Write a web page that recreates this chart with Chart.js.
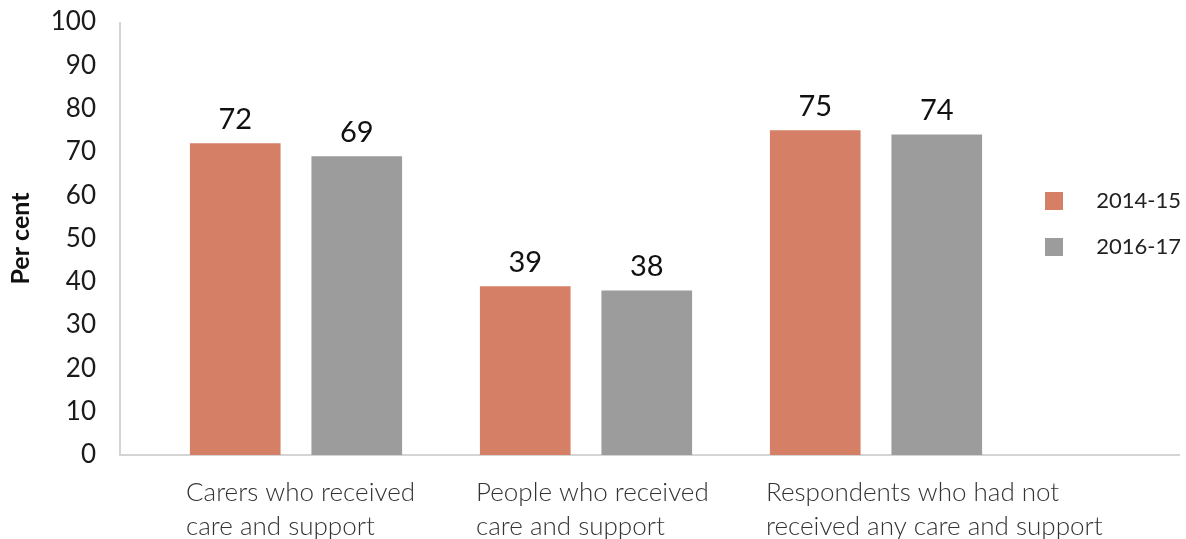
<!DOCTYPE html>
<html>
<head>
<meta charset="utf-8">
<script src="https://cdn.jsdelivr.net/npm/chart.js@4.4.0/dist/chart.umd.min.js"></script>
<style>
  html, body { margin: 0; padding: 0; background: #fff; }
  #wrap { width: 1186px; height: 539px; }
</style>
</head>
<body>
<div id="wrap"><canvas id="careChart"></canvas></div>
<script>
const categories = [
    ['Carers who received', 'care and support'],
    ['People who received', 'care and support'],
    ['Respondents who had not', 'received any care and support']
];
const series2014 = [72, 39, 75];
const series2016 = [69, 38, 74];
const seriesNames = ['2014-15', '2016-17'];
const yTicks = [0, 10, 20, 30, 40, 50, 60, 70, 80, 90, 100];

const orange = '#d57f66';
const grey = '#9c9c9c';

// value labels above each bar
const barLabels = {
    id: 'barLabels',
    afterDatasetsDraw(chart) {
        const ctx = chart.ctx;
        ctx.save();
        ctx.font = '29px Lato';
        ctx.fillStyle = '#111';
        ctx.textAlign = 'center';
        ctx.textBaseline = 'bottom';
        chart.data.datasets.forEach((ds, i) => {
            chart.getDatasetMeta(i).data.forEach((bar, j) => {
                ctx.fillText(ds.data[j], bar.x, bar.y - 9);
            });
        });
        ctx.restore();
    }
};

// axis lines: y line sits left of the first group, x line runs under the legend too
const axisLines = {
    id: 'axisLines',
    beforeDatasetsDraw(chart) {
        const ctx = chart.ctx;
        const area = chart.chartArea;
        const x0 = area.left - 31;
        const y0 = chart.scales.y.getPixelForValue(0);
        ctx.save();
        ctx.strokeStyle = '#d4d4d4';
        ctx.lineWidth = 2;
        ctx.beginPath();
        ctx.moveTo(x0, area.top);
        ctx.lineTo(x0, y0);
        ctx.lineTo(chart.width - 6, y0);
        ctx.stroke();
        ctx.restore();
    }
};

const ctx = document.getElementById('careChart').getContext('2d');
const careChart = new Chart(ctx, {
    type: 'bar',
    data: {
        labels: categories,
        datasets: [{
            label: seriesNames[0],
            data: series2014,
            backgroundColor: orange,
            barPercentage: 0.746,
            categoryPercentage: 0.838
        }, {
            label: seriesNames[1],
            data: series2016,
            backgroundColor: grey,
            barPercentage: 0.746,
            categoryPercentage: 0.838
        }]
    },
    options: {
        responsive: true,
        maintainAspectRatio: false,
        animation: false,
        layout: {
            padding: { top: 22, right: 0, bottom: 0, left: 0 }
        },
        plugins: {
            tooltip: { enabled: false },
            legend: {
                position: 'right',
                fullSize: false,
                align: 'start',
                maxWidth: 165,
                title: {
                    display: true,
                    text: '',
                    font: { size: 10 },
                    padding: { top: 132, bottom: 0 }
                },
                labels: {
                    boxWidth: 18,
                    boxHeight: 18,
                    padding: 24,
                    color: '#222',
                    font: { family: 'Lato', size: 22 },
                    generateLabels: (chart) => {
                        const items = Chart.defaults.plugins.legend.labels.generateLabels(chart);
                        items.forEach(item => { item.text = '\u2002  ' + item.text; });
                        return items;
                    }
                }
            }
        },
        scales: {
            x: {
                afterFit: (scale) => {
                    scale.height = 84;
                    scale.paddingLeft = 0;
                    scale.paddingRight = 0;
                },
                grid: { display: false },
                border: { display: false },
                ticks: {
                    align: 'start',
                    labelOffset: -110,
                    padding: 12,
                    maxRotation: 0,
                    autoSkip: false,
                    color: '#333',
                    font: { family: 'Lato', size: 26, weight: 300, lineHeight: 1.32 }
                }
            },
            y: {
                min: 0,
                max: 100,
                afterBuildTicks: (scale) => {
                    scale.ticks = yTicks.map(v => ({ value: v }));
                },
                afterFit: (scale) => {
                    scale.width = 151;
                    scale.paddingTop = 0;
                    scale.paddingBottom = 0;
                },
                grid: { display: false },
                border: { display: false },
                ticks: {
                    padding: 47,
                    color: '#1a1a1a',
                    font: { family: 'Lato', size: 26 }
                },
                title: {
                    display: true,
                    text: 'Per cent',
                    color: '#111',
                    padding: { top: 5, bottom: 0 },
                    font: { family: 'Lato', size: 25, weight: 'bold', lineHeight: 1.25 }
                }
            }
        }
    },
    plugins: [axisLines, barLabels]
});
</script>
</body>
</html>
